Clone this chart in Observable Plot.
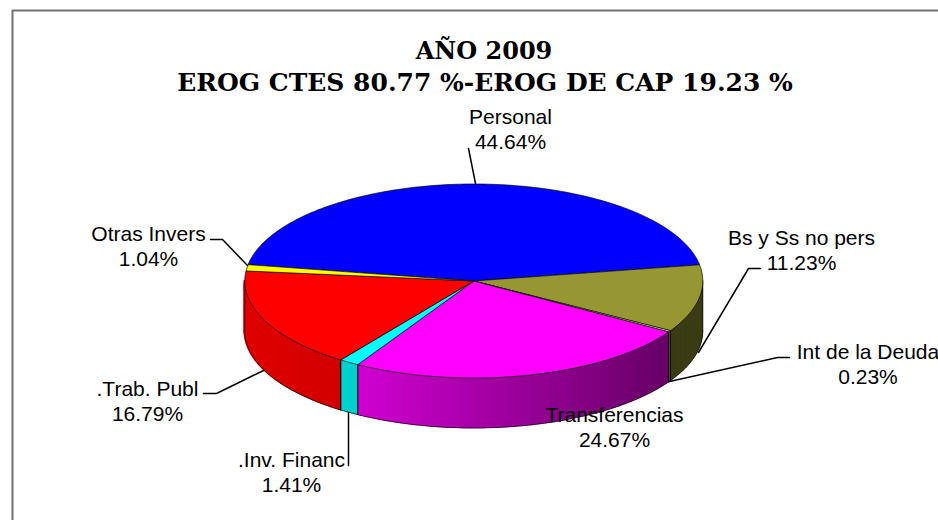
<!DOCTYPE html>
<html>
<head>
<meta charset="utf-8">
<style>html,body{margin:0;padding:0;background:#fff}svg{display:block}</style>
<script src="https://cdn.jsdelivr.net/npm/d3@7"></script>
<script src="https://cdn.jsdelivr.net/npm/@observablehq/plot@0.6"></script>
</head>
<body>
<script>
// Data
const categories = ["Personal","Bs y Ss no pers","Int de la Deuda","Transferencias",".Inv. Financ",".Trab. Publ","Otras Invers"];
const shares = [44.64,11.23,0.23,24.67,1.41,16.79,1.04];
const topColors = ["#0000ff","#969632","#ffffcc","#ff00ff","#00ffff","#ff0000","#ffff00"];
const titleLines = ["AÑO 2009","EROG CTES 80.77 %-EROG DE CAP 19.23 %"];

// Layout (separate from data)
const pie = {cx:473.3, cy:280.5, rx:229, ry:97, depth:50, start:170.3};
const labelAt = [[510,123],[801,244],[867.5,358],[614,421],[291,466],[147,395],[148,240]];
const labelGap = 25;
const leaders = [
  [[468,148],[475,183]],
  [[760,268],[748,268],[698,352]],
  [[789,357],[777,357],[669,381]],
  [],
  [[348,465],[348,412]],
  [[203,393],[216,393],[263,370]],
  [[210,239],[222,239],[247,265]]
];

const total = d3.sum(shares);
const rad = d => d*Math.PI/180;
const px = a => pie.cx + pie.rx*Math.cos(rad(a));
const py = a => pie.cy - pie.ry*Math.sin(rad(a));

// Slice spans, clockwise from the start angle
let run = pie.start;
const slices = categories.map((name,i)=>{
  const a0 = run, a1 = run - shares[i]/total*360;
  run = a1;
  return {name,i,a0,a1,color:topColors[i]};
});
const arc = (from,to) => {
  const n = Math.max(2,Math.ceil(Math.abs(from-to)));
  return d3.range(n+1).map(k=>from+(to-from)*k/n);
};

const shade = d3.scaleLinear().domain([-1,-0.45,0.85,1]).range([0.88,0.8,0.4,0.4]).clamp(true);
const dim = (color,f)=>{const c=d3.rgb(color);return d3.rgb(c.r*f,c.g*f,c.b*f).formatHex();};

// Visible front wall of each slice
const wallStrips=[], wallEdges=[];
slices.forEach(s=>{
  [0,360,-360].forEach(shift=>{
    const hi=Math.min(s.a0+shift,0), lo=Math.max(s.a1+shift,-180);
    if(hi<=lo) return;
    const as=arc(hi,lo);
    for(let k=0;k<as.length-1;k++){
      const id=`${s.i}-${shift}-${k}`;
      const c=dim(s.color,shade(Math.cos(rad((as[k]+as[k+1])/2))));
      [as[k],as[k+1]].forEach(a=>wallStrips.push({id,x:px(a),t:py(a),b:py(a)+pie.depth,c}));
    }
    const id=`${s.i}-${shift}`;
    as.forEach(a=>wallEdges.push({id:"arc"+id,x:px(a),y:py(a)+pie.depth}));
    [hi,lo].forEach((a,j)=>{
      wallEdges.push({id:"e"+j+id,x:px(a),y:py(a)});
      wallEdges.push({id:"e"+j+id,x:px(a),y:py(a)+pie.depth});
    });
  });
});

const topPts = slices.flatMap(s=>[
  {id:s.i,x:pie.cx,y:pie.cy,c:s.color},
  ...arc(s.a0,s.a1).map(a=>({id:s.i,x:px(a),y:py(a),c:s.color})),
  {id:s.i,x:pie.cx,y:pie.cy,c:s.color}
]);

const leaderPts = leaders.flatMap((l,i)=>l.map(p=>({id:i,x:p[0],y:p[1]})));
const labels = slices.flatMap((s,i)=>[
  {x:labelAt[i][0],y:labelAt[i][1],t:s.name},
  {x:labelAt[i][0],y:labelAt[i][1]+labelGap,t:shares[i].toFixed(2)+"%"}
]);
const titles = [{x:483.5,y:58,t:titleLines[0],s:24},{x:484.5,y:90.5,t:titleLines[1],s:25}];

const chart = Plot.plot({
  width:938,height:520,margin:0,
  x:{domain:[0,938],axis:null},
  y:{domain:[520,0],axis:null},
  color:{type:"identity"},
  marks:[
    Plot.ruleX([12],{y1:10,y2:520,stroke:"#707070",strokeWidth:2}),
    Plot.ruleY([10],{x1:12,x2:938,stroke:"#707070",strokeWidth:2}),
    Plot.area(wallStrips,{x1:"x",y1:"t",y2:"b",z:"id",fill:"c",stroke:"c",strokeWidth:1.5}),
    Plot.line(wallEdges,{x:"x",y:"y",z:"id",stroke:"#000",strokeWidth:0.8,strokeOpacity:0.8}),
    Plot.line(topPts,{x:"x",y:"y",z:"id",fill:"c",stroke:"#000",strokeWidth:0.8,strokeOpacity:0.85}),
    Plot.line(leaderPts,{x:"x",y:"y",z:"id",stroke:"#000",strokeWidth:1.5}),
    Plot.text(labels,{x:"x",y:"y",text:"t",textAnchor:"middle",lineAnchor:"bottom",fontFamily:"Liberation Sans",fontSize:21,fill:"#000"}),
    ...titles.map(t=>Plot.text([t],{x:"x",y:"y",text:"t",textAnchor:"middle",lineAnchor:"bottom",fontFamily:"DejaVu Serif",fontWeight:"bold",fontSize:t.s,fill:"#000"}))
  ]
});
document.body.appendChild(chart);
</script>
</body>
</html>
